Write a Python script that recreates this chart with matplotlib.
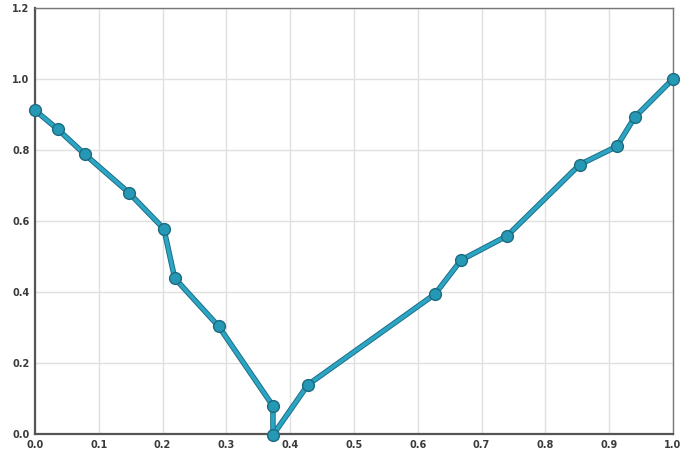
import matplotlib
matplotlib.use("Agg")
import matplotlib.pyplot as plt
import numpy as np

x_vals = [0.0, 0.036, 0.078, 0.147, 0.202, 0.219, 0.288, 0.373, 0.373, 0.428,
          0.627, 0.668, 0.740, 0.854, 0.912, 0.940, 1.0]
y_vals = [0.912, 0.858, 0.788, 0.680, 0.578, 0.439, 0.303, 0.079, -0.003, 0.139,
          0.394, 0.490, 0.558, 0.759, 0.810, 0.892, 1.0]
x_ticks = [0.0, 0.1, 0.2, 0.3, 0.4, 0.5, 0.6, 0.7, 0.8, 0.9, 1.0]
y_ticks = [0.0, 0.2, 0.4, 0.6, 0.8, 1.0, 1.2]

fig = plt.figure(figsize=(6.8, 4.58), dpi=100)
ax = fig.add_axes([0.0515, 0.0524, 0.938, 0.930])

ax.plot(x_vals, y_vals, color="#1d6f86", lw=4.0, solid_capstyle="round",
        solid_joinstyle="round", zorder=3)
ax.plot(x_vals, y_vals, color="#2ca5c4", lw=2.6, solid_capstyle="round",
        solid_joinstyle="round", zorder=4,
        marker="o", markersize=8.5, markerfacecolor="#2598b5",
        markeredgecolor="#1d6a7f", markeredgewidth=1.0)

ax.set_xlim(0, 1.0)
ax.set_ylim(0, 1.2)
ax.set_xticks(x_ticks)
ax.set_yticks(y_ticks)
ax.set_xticklabels([f"{v:.1f}" for v in x_ticks])
ax.set_yticklabels([f"{v:.1f}" for v in y_ticks])
ax.tick_params(length=0, labelsize=7, labelcolor="#3a3a3a", pad=4)
for lab in ax.get_xticklabels() + ax.get_yticklabels():
    lab.set_fontweight("bold")

ax.grid(True, color="#e0e0e0", lw=1.0)
ax.set_axisbelow(True)
for side in ["left", "bottom"]:
    ax.spines[side].set_color("#555555")
    ax.spines[side].set_linewidth(1.6)
for side in ["top", "right"]:
    ax.spines[side].set_color("#777777")
    ax.spines[side].set_linewidth(1.0)

for a in ax.lines:
    a.set_clip_on(False)

fig.savefig("out.png", dpi=100)
